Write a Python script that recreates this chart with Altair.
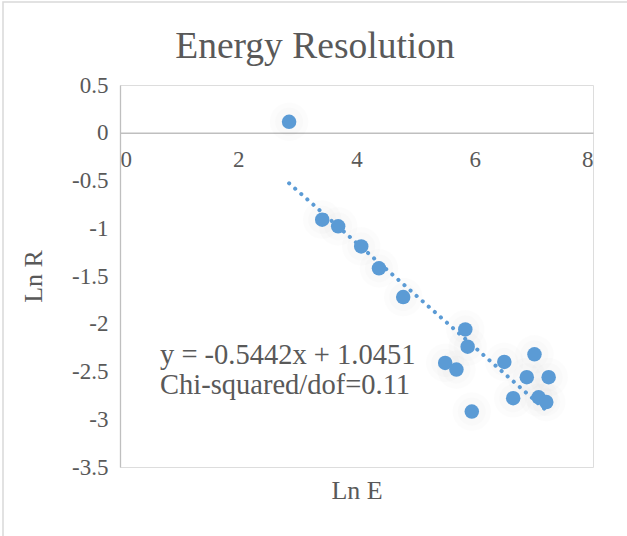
import altair as alt
import pandas as pd

# Data
ln_e = [2.86, 3.42, 3.69, 4.08, 4.38, 4.79, 5.84, 5.88, 5.50, 5.69,
        6.50, 7.01, 6.88, 7.25, 6.65, 7.08, 7.21, 5.95]
ln_r = [0.115, -0.91, -0.98, -1.19, -1.42, -1.72, -2.06, -2.24, -2.41, -2.48,
        -2.40, -2.32, -2.56, -2.56, -2.78, -2.77, -2.82, -2.92]
x_ticks = [0, 2, 4, 6, 8]
y_ticks = [0.5, 0, -0.5, -1, -1.5, -2, -2.5, -3, -3.5]
annotation_lines = ["y = -0.5442x + 1.0451", "Chi-squared/dof=0.11"]
chart_title = ["Energy Resolution"]
x_title = "Ln E"
y_title = "Ln R"

df = pd.DataFrame({"x": ln_e, "y": ln_r})
ann = pd.DataFrame({"t": ["\n".join(annotation_lines)]})
ttl = pd.DataFrame({"t": chart_title})

FONT = "Liberation Serif"
TXT = "#595959"
BLUE = "#5b9bd5"
W, H = 473, 382

xscale = alt.Scale(domain=[0, 8], nice=False)
yscale = alt.Scale(domain=[-3.5, 0.5], nice=False)

xenc = alt.X("x:Q", scale=xscale, axis=alt.Axis(
    values=x_ticks, orient="bottom", offset=-(H - 47.75), ticks=False,
    grid=False, domainColor="#bfbfbf", domainWidth=1.3,
    labelFont=FONT, labelFontSize=23, labelColor=TXT, labelPadding=16,
    labelExpr="'' + datum.value",
    title=x_title, titleFont=FONT, titleFontSize=26, titleColor=TXT,
    titleFontWeight="normal", titleY=358, titleBaseline="middle"))
yenc = alt.Y("y:Q", scale=yscale, axis=alt.Axis(
    values=y_ticks, ticks=False, grid=False, domainColor="#bfbfbf",
    domainWidth=1.3, labelFont=FONT, labelFontSize=23, labelColor=TXT,
    labelPadding=12, labelExpr="'' + datum.value",
    title=y_title, titleFont=FONT, titleFontSize=26, titleColor=TXT,
    titleFontWeight="normal", titleX=-87, titleY=H / 2,
    titleBaseline="middle", titleAlign="center", titleAngle=-90))

base = alt.Chart(df)

border = alt.Chart(ann).mark_rect(fill=None, stroke="#d9d9d9", strokeWidth=1.5).encode(
    x=alt.value(-117), x2=alt.value(530), y=alt.value(-83), y2=alt.value(470))

title_mark = alt.Chart(ttl).mark_text(
    align="center", baseline="middle", font=FONT, fontSize=37.5, color=TXT).encode(
    x=alt.value(195), y=alt.value(-38), text="t:N")

glow1 = base.mark_circle(size=1500, color="#000000", opacity=0.01).encode(x=xenc, y=yenc)
glow2 = base.mark_circle(size=800, color="#000000", opacity=0.012).encode(x=xenc, y=yenc)

trend = base.transform_regression("x", "y").mark_line(
    color=BLUE, strokeWidth=4, strokeDash=[0.1, 8], strokeCap="round").encode(x=xenc, y=yenc)

points = base.mark_circle(size=210, color=BLUE, opacity=1).encode(x=xenc, y=yenc)

label = alt.Chart(ann).mark_text(
    align="left", baseline="middle", lineBreak="\n", lineHeight=30,
    font=FONT, fontSize=28.5, color=TXT).encode(
    x=alt.value(40), y=alt.value(270), text="t:N")

chart = alt.layer(border, title_mark, glow1, glow2, trend, points, label).properties(
    width=W, height=H,
    autosize=alt.AutoSizeParams(type="none"),
    padding={"left": 120, "top": 85, "right": 34, "bottom": 69},
).configure_view(stroke=None).configure(background="white")

chart.save("out.html", embed_options={"renderer": "svg", "actions": False})
